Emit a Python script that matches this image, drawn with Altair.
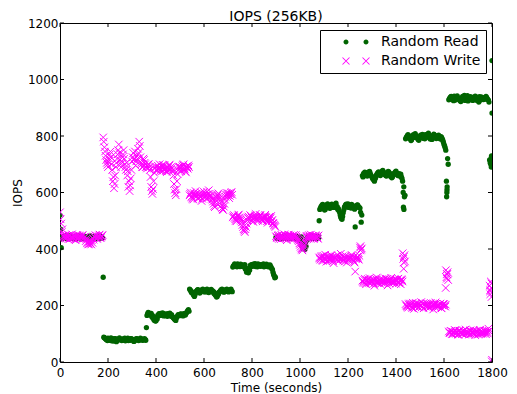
import altair as alt
import pandas as pd

# ---------------- data ----------------
series_names = ["Random Read", "Random Write"]
x_ticks = [0, 200, 400, 600, 800, 1000, 1200, 1400, 1600, 1800]
y_ticks = [0, 200, 400, 600, 800, 1000, 1200]
sample_times = list(range(0, 1800, 5))
mid_times = [t + 2.5 for t in sample_times]

read_iops = [
    520, 405, 442, 438, 445, 440, 436, 447, 441, 439, 444, 437, 443, 440, 446, 438, 441, 435,
    444, 440, 439, 442, 437, 445, 441, 438, 443, 440, 436, 444, 441, 439, 442, 438, 445, 440,
    300, 86, 82, 79, 84, 77, 81, 75, 80, 83, 78, 72, 76, 80, 82, 79, 77, 81,
    84, 78, 80, 76, 79, 83, 81, 77, 74, 79, 82, 80, 78, 84, 81, 77, 80, 79,
    122, 170, 174, 168, 172, 165, 160, 150, 146, 152, 163, 168, 172, 166, 170, 167, 164, 169,
    171, 166, 163, 168, 160, 154, 150, 156, 163, 167, 165, 169, 166, 170, 168, 172, 178, 185,
    258, 252, 248, 240, 232, 245, 252, 256, 250, 247, 253, 258, 251, 249, 255, 250, 246, 252,
    257, 253, 249, 245, 238, 232, 240, 248, 254, 258, 252, 249, 255, 258, 253, 250, 256, 252,
    336, 342, 345, 340, 347, 343, 338, 344, 341, 339, 345, 332, 322, 316, 325, 338, 343, 346,
    341, 338, 344, 347, 342, 339, 345, 341, 337, 343, 346, 340, 338, 344, 335, 328, 310, 298,
    442, 438, 445, 440, 436, 444, 441, 439, 443, 437, 446, 440, 438, 442, 445, 439, 441, 436,
    444, 440, 438, 443, 420, 405, 398, 410, 432, 441, 438, 444, 440, 437, 443, 441, 439, 445,
    500, 545, 552, 558, 548, 540, 553, 560, 549, 544, 556, 551, 547, 555, 562, 550, 543, 530,
    512, 505, 528, 548, 556, 552, 560, 547, 553, 558, 550, 545, 478, 552, 556, 549, 545, 495,
    660, 668, 672, 665, 658, 670, 675, 662, 655, 648, 640, 652, 664, 670, 667, 660, 672, 678,
    669, 663, 658, 666, 673, 668, 660, 655, 664, 670, 676, 668, 662, 658, 665, 650, 600, 585,
    790, 798, 805, 800, 793, 787, 796, 802, 808, 799, 791, 785, 794, 800, 806, 798, 790, 795,
    803, 810, 800, 792, 788, 797, 804, 799, 793, 801, 796, 789, 795, 785, 770, 758, 640, 720,
    928, 935, 940, 932, 925, 930, 938, 942, 934, 927, 922, 931, 937, 944, 936, 929, 924, 933,
    939, 930, 926, 935, 941, 933, 928, 920, 931, 938, 935, 929, 934, 940, 932, 927, 715, 700,
]

read_iops_mid = [
    470, 436, 443, 439, 446, 441, 437, 444, 440, 438, 445, 442, 436, 443, 439, 447, 440, 438,
    442, 445, 437, 441, 444, 439, 436, 446, 440, 443, 438, 441, 445, 437, 442, 440, 444, 439,
    88, 84, 80, 76, 82, 79, 85, 78, 74, 81, 83, 77, 79, 85, 80, 76, 82, 78,
    75, 81, 84, 79, 77, 82, 80, 73, 78, 83, 81, 76, 79, 82, 78, 80, 83, 77,
    165, 176, 170, 166, 160, 155, 148, 145, 158, 166, 171, 165, 168, 174, 163, 170, 166, 162,
    168, 173, 165, 160, 157, 151, 147, 160, 168, 164, 170, 167, 163, 171, 166, 175, 182, 180,
    255, 246, 244, 236, 238, 250, 255, 249, 244, 251, 256, 254, 248, 252, 258, 247, 250, 255,
    251, 247, 242, 236, 230, 238, 246, 251, 256, 253, 247, 252, 256, 250, 248, 254, 258, 249,
    340, 347, 341, 337, 344, 340, 346, 339, 343, 336, 328, 318, 320, 330, 342, 345, 339, 342,
    348, 343, 337, 341, 345, 340, 343, 347, 341, 339, 344, 337, 342, 338, 330, 318, 305, 300,
    439, 444, 441, 437, 443, 440, 446, 438, 441, 444, 439, 443, 441, 437, 444, 440, 438, 445,
    441, 437, 430, 412, 402, 400, 418, 437, 443, 439, 442, 446, 438, 441, 444, 437, 442, 440,
    540, 550, 556, 545, 538, 548, 557, 552, 546, 551, 559, 548, 552, 558, 546, 540, 535, 520,
    508, 515, 538, 552, 559, 548, 555, 550, 545, 555, 552, 541, 548, 555, 551, 546, 530, 520,
    655, 664, 670, 661, 667, 673, 668, 658, 650, 644, 648, 660, 668, 673, 662, 666, 676, 670,
    665, 660, 670, 675, 664, 657, 652, 661, 668, 673, 665, 660, 667, 661, 655, 640, 620, 590,
    794, 801, 797, 790, 784, 799, 805, 795, 802, 794, 788, 797, 803, 796, 792, 800, 805, 799,
    806, 796, 789, 794, 801, 807, 796, 791, 798, 803, 792, 798, 790, 778, 765, 750, 610, 700,
    932, 938, 929, 935, 941, 927, 933, 936, 930, 925, 934, 940, 931, 926, 938, 943, 932, 928,
    935, 937, 929, 932, 938, 926, 933, 939, 927, 934, 930, 936, 931, 937, 929, 920, 705, 725,
]

write_iops = [
    530, 490, 470, 445, 438, 450, 442, 435, 447, 440, 452, 438, 444, 431, 446, 440, 448, 436,
    443, 450, 439, 444, 436, 425, 418, 430, 416, 422, 433, 441, 447, 437, 444, 451, 440, 446,
    795, 760, 730, 705, 690, 720, 745, 700, 640, 615, 660, 705, 735, 770, 715, 690, 725, 750,
    700, 680, 660, 620, 605, 650, 710, 740, 720, 695, 730, 755, 780, 725, 700, 690, 715, 700,
    690, 695, 700, 680, 620, 595, 640, 685, 692, 678, 688, 700, 683, 675, 690, 697, 684, 672,
    688, 695, 680, 686, 674, 630, 598, 612, 665, 690, 686, 675, 693, 700, 682, 671, 689, 696,
    590, 600, 582, 575, 592, 605, 588, 578, 596, 584, 570, 590, 602, 586, 579, 594, 608, 590,
    583, 575, 560, 548, 572, 589, 597, 580, 565, 545, 538, 560, 585, 598, 590, 580, 594, 602,
    512, 520, 505, 498, 515, 522, 508, 500, 485, 470, 460, 478, 502, 515, 510, 518, 504, 496,
    512, 524, 508, 500, 514, 519, 506, 498, 511, 521, 505, 493, 500, 512, 517, 503, 490, 482,
    445, 438, 450, 442, 435, 447, 440, 452, 444, 431, 446, 440, 448, 436, 443, 450, 439, 444,
    436, 428, 415, 402, 395, 408, 425, 441, 447, 437, 444, 451, 440, 446, 438, 449, 443, 436,
    370, 362, 375, 358, 366, 380, 355, 368, 372, 360, 378, 364, 350, 369, 374, 361, 357, 371,
    383, 365, 359, 368, 376, 352, 363, 370, 366, 379, 361, 356, 320, 367, 373, 362, 405, 398,
    288, 280, 295, 275, 290, 283, 297, 278, 286, 292, 270, 284, 299, 281, 289, 276, 293, 286,
    279, 296, 284, 271, 290, 287, 298, 280, 285, 293, 277, 288, 295, 282, 275, 290, 365, 378,
    205, 198, 192, 207, 201, 195, 210, 188, 203, 199, 206, 194, 200, 212, 197, 190, 204, 208,
    196, 201, 193, 209, 199, 186, 204, 211, 198, 195, 202, 207, 190, 200, 205, 196, 300, 318,
    108, 102, 110, 98, 105, 113, 100, 107, 96, 111, 104, 99, 109, 103, 115, 101, 106, 97,
    112, 104, 100, 108, 95, 110, 105, 102, 114, 99, 106, 103, 111, 98, 107, 118, 270, 285,
]

write_iops_mid = [
    505, 460, 448, 441, 446, 437, 443, 449, 436, 445, 441, 447, 434, 442, 450, 438, 445, 440,
    447, 436, 442, 428, 420, 416, 426, 419, 431, 438, 444, 449, 436, 442, 448, 439, 444, 450,
    780, 745, 715, 698, 710, 735, 725, 680, 655, 630, 690, 720, 750, 740, 700, 710, 735, 720,
    690, 705, 675, 640, 625, 680, 725, 715, 745, 710, 720, 740, 765, 705, 690, 720, 705, 690,
    685, 700, 690, 655, 605, 612, 670, 690, 680, 695, 684, 676, 692, 698, 680, 688, 676, 690,
    682, 699, 690, 678, 660, 610, 590, 640, 680, 692, 679, 688, 697, 686, 675, 692, 684, 690,
    595, 585, 578, 598, 588, 596, 580, 592, 586, 600, 578, 584, 594, 590, 603, 582, 595, 587,
    578, 568, 552, 565, 582, 593, 586, 572, 555, 540, 550, 575, 592, 586, 597, 588, 599, 592,
    516, 510, 500, 508, 519, 512, 504, 494, 478, 465, 470, 490, 510, 506, 520, 512, 500, 508,
    518, 514, 503, 510, 520, 511, 502, 508, 516, 512, 499, 505, 514, 509, 498, 492, 485, 478,
    441, 447, 436, 445, 450, 438, 444, 448, 437, 442, 451, 443, 439, 446, 435, 444, 449, 440,
    432, 420, 408, 398, 402, 415, 433, 445, 440, 449, 438, 444, 447, 435, 443, 446, 440, 448,
    366, 371, 360, 376, 369, 362, 373, 358, 366, 375, 368, 357, 366, 372, 365, 378, 368, 362,
    370, 374, 363, 356, 368, 371, 360, 367, 374, 364, 370, 352, 364, 370, 366, 376, 395, 402,
    284, 291, 279, 287, 294, 280, 289, 283, 290, 277, 288, 293, 285, 279, 292, 284, 280, 291,
    287, 282, 294, 286, 278, 292, 284, 289, 281, 287, 292, 283, 279, 288, 293, 285, 372, 356,
    200, 195, 204, 198, 207, 191, 202, 197, 209, 200, 193, 205, 199, 194, 206, 202, 196, 200,
    207, 192, 203, 198, 205, 201, 194, 206, 200, 197, 204, 192, 201, 206, 198, 203, 312, 290,
    104, 110, 99, 107, 101, 112, 104, 98, 109, 103, 107, 100, 112, 97, 105, 109, 102, 110,
    99, 106, 113, 101, 104, 108, 97, 111, 103, 106, 100, 109, 104, 112, 101, 110, 255, 278,
]

read_extra_time = [1431, 1433, 1611, 1612, 1613, 1797, 1798, 1800, 1800]
read_extra_iops = [548, 540, 585, 600, 620, 690, 730, 881, 1067]
write_extra_time = [1252, 1428, 1432, 1433, 1607, 1608, 1612, 1613, 1792, 1793, 1797, 1798, 1799, 1800]
write_extra_iops = [410, 385, 330, 352, 262, 325, 295, 310, 250, 240, 262, 230, 2, 8]

read_df = pd.DataFrame({"time": sample_times + mid_times + read_extra_time,
                        "iops": read_iops + read_iops_mid + read_extra_iops})
write_df = pd.DataFrame({"time": sample_times + mid_times + write_extra_time,
                         "iops": write_iops + write_iops_mid + write_extra_iops})
legend_df = pd.DataFrame({"series": series_names})
xtick_df = pd.DataFrame({"tick": x_ticks})
ytick_df = pd.DataFrame({"tick": y_ticks})

# ---------------- style ----------------
GREEN = "#006400"
MAGENTA = "#FF00FF"
FONT = "DejaVu Sans"
PLOT_W, PLOT_H = 432, 339
X_SINGLE = "M-1,-1L1,1M-1,1L1,-1"
DOTS_PAIR = ("M-1.5,0A0.5,0.5,0,1,1,-2.5,0A0.5,0.5,0,1,1,-1.5,0Z"
             "M2.5,0A0.5,0.5,0,1,1,1.5,0A0.5,0.5,0,1,1,2.5,0Z")


def x_glyph(cx):
    a = "M{:.2f},-0.77L{:.2f},0.63L{:.2f},0.77L{:.2f},-0.63Z".format(cx - 0.63, cx + 0.77, cx + 0.63, cx - 0.77)
    b = "M{:.2f},0.63L{:.2f},-0.77L{:.2f},-0.63L{:.2f},0.77Z".format(cx - 0.77, cx + 0.63, cx + 0.77, cx - 0.63)
    return a + b


X_PAIR = x_glyph(-2.0) + x_glyph(2.0)

xs = alt.Scale(domain=[0, 1800], nice=False, zero=False)
ys = alt.Scale(domain=[0, 1200], nice=False)

x_axis = alt.Axis(values=x_ticks, format="d", title="Time (seconds)", ticks=False, domain=False,
                  grid=False, labelFont=FONT, labelFontSize=12, labelColor="black",
                  labelPadding=5, labelFlush=False, labelOverlap=False,
                  titleFont=FONT, titleFontSize=12, titleFontWeight="normal",
                  titleColor="black", titlePadding=4)
y_axis = alt.Axis(values=y_ticks, format="d", title="IOPS", ticks=False, domain=False,
                  grid=False, labelFont=FONT, labelFontSize=12, labelColor="black",
                  labelPadding=2, labelFlush=False, labelOverlap=False,
                  titleFont=FONT, titleFontSize=12, titleFontWeight="normal",
                  titleColor="black", titlePadding=3)

read_layer = alt.Chart(read_df).mark_point(
    filled=True, shape="circle", size=28, color=GREEN, opacity=1, clip=True
).encode(
    x=alt.X("time:Q", scale=xs, axis=x_axis),
    y=alt.Y("iops:Q", scale=ys, axis=y_axis),
)

write_layer = alt.Chart(write_df).mark_point(
    filled=False, shape=X_SINGLE, size=56, color=MAGENTA, strokeWidth=1, opacity=1, clip=True
).encode(
    x=alt.X("time:Q", scale=xs, axis=x_axis),
    y=alt.Y("iops:Q", scale=ys, axis=y_axis),
)

tick_bottom = alt.Chart(xtick_df).mark_rule(color="black", strokeWidth=1).encode(
    x=alt.X("tick:Q", scale=xs, axis=x_axis), y=alt.value(PLOT_H), y2=alt.value(PLOT_H - 4))
tick_top = alt.Chart(xtick_df).mark_rule(color="black", strokeWidth=1).encode(
    x=alt.X("tick:Q", scale=xs, axis=x_axis), y=alt.value(0), y2=alt.value(4))
tick_left = alt.Chart(ytick_df).mark_rule(color="black", strokeWidth=1).encode(
    y=alt.Y("tick:Q", scale=ys, axis=y_axis), x=alt.value(0), x2=alt.value(4))
tick_right = alt.Chart(ytick_df).mark_rule(color="black", strokeWidth=1).encode(
    y=alt.Y("tick:Q", scale=ys, axis=y_axis), x=alt.value(PLOT_W - 4), x2=alt.value(PLOT_W))

leg = alt.Legend(title=None, orient="none", legendX=260, legendY=7, padding=5,
                 strokeColor="black", fillColor="white", cornerRadius=0,
                 labelFont=FONT, labelFontSize=14, labelColor="black",
                 symbolSize=100, symbolOffset=24, labelOffset=18, rowPadding=5,
                 symbolStrokeWidth=0)

legend_layer = alt.Chart(legend_df).transform_filter("false").mark_point(
    filled=True, opacity=1, size=100
).encode(
    color=alt.Color("series:N", scale=alt.Scale(domain=series_names, range=[GREEN, MAGENTA]), legend=leg),
    shape=alt.Shape("series:N", scale=alt.Scale(domain=series_names, range=[DOTS_PAIR, X_PAIR]), legend=leg),
)

chart = alt.layer(
    read_layer, write_layer, tick_bottom, tick_top, tick_left, tick_right, legend_layer
).properties(
    width=PLOT_W,
    height=PLOT_H,
    title=alt.TitleParams("IOPS (256KB)", font=FONT, fontSize=14, fontWeight="normal",
                          color="black", anchor="middle", frame="group", offset=1, dy=8),
    padding={"left": 52, "top": 15, "right": 17, "bottom": 31},
    autosize=alt.AutoSizeParams(type="none"),
).configure(
    font=FONT, background="white"
).configure_view(
    stroke="black", strokeWidth=1
)

chart.save("out.html", embed_options={"renderer": "svg", "actions": False})
